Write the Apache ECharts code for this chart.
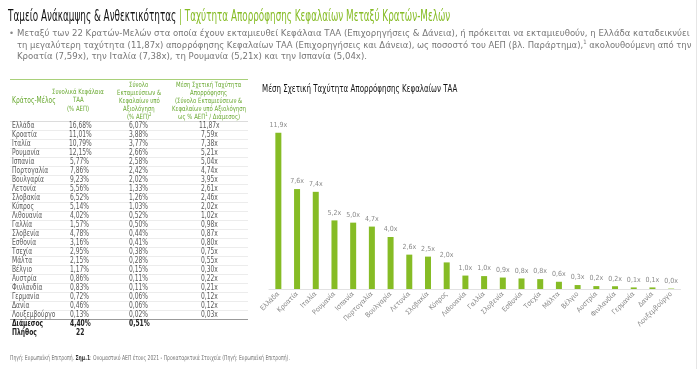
<!DOCTYPE html>
<html><head><meta charset="utf-8">
<script src="https://cdn.jsdelivr.net/npm/echarts@6/dist/echarts.min.js"></script>
<style>
html,body{margin:0;padding:0;background:#fff;width:700px;height:369px;overflow:hidden}
#chart{position:absolute;left:0;top:0;width:700px;height:369px}
#ov{position:absolute;left:0;top:0;width:700px;height:369px}
.t{position:absolute;white-space:nowrap;line-height:1.15;}
.ln{position:absolute;height:0;}
</style></head><body>
<div id="chart"></div>
<div id="ov"></div>
<script>
// ---- data ----
const countries = ["Ελλάδα","Κροατία","Ιταλία","Ρουμανία","Ισπανία","Πορτογαλία","Βουλγαρία","Λετονία","Σλοβακία","Κύπρος","Λιθουανία","Γαλλία","Σλοβενία","Εσθονία","Τσεχία","Μάλτα","Βέλγιο","Αυστρία","Φινλανδία","Γερμανία","Δανία","Λουξεμβούργο"];
const totalFunds = [16.68,11.01,10.79,12.15,5.77,7.86,9.23,5.56,6.52,5.14,4.02,1.57,4.78,3.16,2.95,2.15,1.17,0.86,0.83,0.72,0.46,0.13];
const disbursed = [6.07,3.88,3.77,2.66,2.58,2.42,2.02,1.33,1.26,1.03,0.52,0.50,0.44,0.41,0.38,0.28,0.15,0.11,0.11,0.06,0.06,0.02];
const speed = [11.87,7.59,7.38,5.21,5.04,4.74,3.95,2.61,2.46,2.02,1.02,0.98,0.87,0.80,0.75,0.55,0.30,0.22,0.21,0.12,0.12,0.03];
const medianFunds = 4.40;
const medianDisbursed = 0.51;
const countStates = 22;

const titleBlack = "Ταμείο Ανάκαμψης &amp; Ανθεκτικότητας";
const titleGreen = "| Ταχύτητα Απορρόφησης Κεφαλαίων Μεταξύ Κρατών-Μελών";
const bulletLines = [
  "Μεταξύ των 22 Κρατών-Μελών στα οποία έχουν εκταμιευθεί Κεφάλαια ΤΑΑ (Επιχορηγήσεις &amp; Δάνεια), ή πρόκειται να εκταμιευθούν, η Ελλάδα καταδεικνύει",
  "τη μεγαλύτερη ταχύτητα (11,87x) απορρόφησης Κεφαλαίων ΤΑΑ (Επιχορηγήσεις και Δάνεια), ως ποσοστό του ΑΕΠ (βλ. Παράρτημα),<sup style='font-size:6px'>1</sup> ακολουθούμενη από την",
  "Κροατία (7,59x), την Ιταλία (7,38x), τη Ρουμανία (5,21x) και την Ισπανία (5,04x)."
];
const hdr1 = ["Κράτος-Μέλος"];
const hdr2 = ["Συνολικά Κεφάλαια","ΤΑΑ","(% ΑΕΠ)"];
const hdr3 = ["Σύνολο","Εκταμιεύσεων &amp;","Κεφαλαίων υπό","Αξιολόγηση","(% ΑΕΠ)<sup style='font-size:5px'>2</sup>"];
const hdr4 = ["Μέση Σχετική Ταχύτητα","Απορρόφησης","(Σύνολο Εκταμιεύσεων &amp;","Κεφαλαίων υπό Αξιολόγηση","ως % ΑΕΠ<sup style='font-size:5px'>1</sup> / Διάμεσος)"];
const chartTitle = "Μέση Σχετική Ταχύτητα Απορρόφησης Κεφαλαίων ΤΑΑ";
const footer = "Πηγή: Ευρωπαϊκή Επιτροπή. <b style='color:#333'>Σημ.1</b>: Ονομαστικό ΑΕΠ έτους 2021 - Προκαταρκτικά Στοιχεία (Πηγή: Ευρωπαϊκή Επιτροπή).";

// ---- styles ----
const COND = "'Liberation Sans Narrow','DejaVu Sans Condensed','Roboto',sans-serif";
const GREEN = "#86bc25";
const HGREEN = "#6aa932";
const fmt = (v, d) => v.toFixed(d).replace('.', ',');

// ---- chart ----
const chart = echarts.init(document.getElementById('chart'), null, {renderer:'canvas'});
chart.setOption({
  animation:false,
  grid:{left:269, right:19.5, top:131, bottom:80, containLabel:false},
  xAxis:{type:'category', data:countries,
    axisLine:{show:true, lineStyle:{color:'#e2e2e2', width:1}},
    axisTick:{show:false},
    axisLabel:{interval:0, rotate:45, fontSize:7, color:'#8a8a8a', margin:4, fontFamily:COND}},
  yAxis:{type:'value', min:0, max:12, show:false, splitLine:{show:false}},
  series:[{type:'bar', data:speed, barWidth:6, itemStyle:{color:GREEN},
    label:{show:true, position:'top', distance:4, fontSize:7, color:'#8a8a8a', fontFamily:COND,
      formatter:p => fmt(p.value,1)+'x'}}]
});

// ---- overlay texts ----
const ov = document.getElementById('ov');
const items = [];
function txt(html, x, y, o){
  o = o || {};
  const d = document.createElement('div');
  d.className = 't';
  d.innerHTML = html;
  d.style.fontFamily = o.font || COND;
  d.style.fontSize = (o.size || 7.5) + 'px';
  d.style.color = o.color || '#555';
  if (o.bold) d.style.fontWeight = 'bold';
  ov.appendChild(d);
  const it = {d, x, y, o, s:1};
  items.push(it);
  return it;
}
function line(x1, x2, y, color, w){
  const d = document.createElement('div');
  d.className = 'ln';
  d.style.left = x1 + 'px'; d.style.width = (x2 - x1) + 'px';
  d.style.top = y + 'px';
  d.style.borderTop = (w || 1) + 'px solid ' + color;
  ov.appendChild(d);
}
const TS = 8, HS = 7.2;
let TBL = 1;
function layout(){
  const p = document.createElement('span');
  p.className = 't'; p.style.fontFamily = COND; p.style.fontSize = TS + 'px';
  p.textContent = 'Κράτος-Μέλος'; ov.appendChild(p);
  TBL = 44 / p.offsetWidth; ov.removeChild(p);
  items.forEach(it => {
    const {d, x, y, o} = it;
    d.style.transform = 'none';
    const w = d.offsetWidth, h = d.offsetHeight;
    let s = 1;
    if (o.w) s = o.w / w;
    else if (o.sxOf) s = o.sxOf.s;
    else if (o.tbl) s = TBL;
    it.s = s;
    const al = o.align || 'left';
    const left = al === 'left' ? x : al === 'center' ? x - w * s / 2 : x - w * s;
    d.style.left = left + 'px';
    d.style.top = (y - h / 2) + 'px';
    d.style.transformOrigin = '0 50%';
    d.style.transform = 'scaleX(' + s + ')';
  });
}

// title
txt(titleBlack, 8, 16.5, {size:15, color:'#111', w:168});
txt(titleGreen, 179, 16.5, {size:15, color:GREEN, w:271});
// bullets
txt("•", 9, 33.5, {size:9.5, color:'#888'});
const b1 = txt(bulletLines[0], 17, 33.5, {size:9.5, color:'#777', w:673});
txt(bulletLines[1], 17, 45, {size:9.5, color:'#777', w:674});
txt(bulletLines[2], 17, 56.5, {size:9.5, color:'#777', sxOf:b1});

// table
const C1 = 12, H2 = 78, C2 = 80, C3 = 139, C4 = 209;
line(10, 248, 79, '#a9d07a', 1);
txt(hdr1[0], C1, 100, {color:HGREEN, size:TS, tbl:true});
[92,100.3,108.6].forEach((y,i)=>txt(hdr2[i], H2, y, {color:HGREEN, size:HS, align:'center', tbl:true}));
[84.5,92.6,100.7,108.8,116.9].forEach((y,i)=>txt(hdr3[i], C3, y, {color:HGREEN, size:HS, align:'center', tbl:true}));
[84.5,92.6,100.7,108.8,116.9].forEach((y,i)=>txt(hdr4[i], C4, y, {color:HGREEN, size:HS, align:'center', tbl:true}));
line(10, 248, 121, '#dcdcdc', 1);
const R0 = 125.5, RS = 9.0;
countries.forEach((c, i) => {
  const y = R0 + RS * i;
  txt(c, C1, y, {size:TS, color:'#5a5a5a', tbl:true});
  txt(fmt(totalFunds[i],2)+'%', C2, y, {size:TS, color:'#5a5a5a', align:'center', tbl:true});
  txt(fmt(disbursed[i],2)+'%', C3, y, {size:TS, color:'#5a5a5a', align:'center', tbl:true});
  txt(fmt(speed[i],2)+'x', C4, y, {size:TS, color:'#5a5a5a', align:'center', tbl:true});
  line(10, 248, Math.round(y + RS/2), '#ececec', 1);
});
const yM = R0 + RS * countries.length;
line(10, 248, Math.round(yM - RS/2), '#9a9a9a', 1);
txt('Διάμεσος', C1, yM, {size:TS, color:'#222', bold:true, tbl:true});
txt(fmt(medianFunds,2)+'%', C2, yM, {size:TS, color:'#222', bold:true, align:'center', tbl:true});
txt(fmt(medianDisbursed,2)+'%', C3, yM, {size:TS, color:'#222', bold:true, align:'center', tbl:true});
txt('Πλήθος', C1, yM + RS, {size:TS, color:'#222', bold:true, tbl:true});
txt(String(countStates), C2, yM + RS, {size:TS, color:'#222', bold:true, align:'center', tbl:true});

// chart title
txt(chartTitle, 262, 89, {size:10, color:'#111', w:195});
// footer
txt(footer, 10, 359, {size:6.8, color:'#777', w:280});
// right border
const rb = document.createElement('div');
rb.style.cssText = 'position:absolute;left:696px;top:0;width:1px;height:369px;background:#e6e6e6';
ov.appendChild(rb);

layout();
if (document.fonts && document.fonts.ready) document.fonts.ready.then(layout);
</script>
</body></html>
